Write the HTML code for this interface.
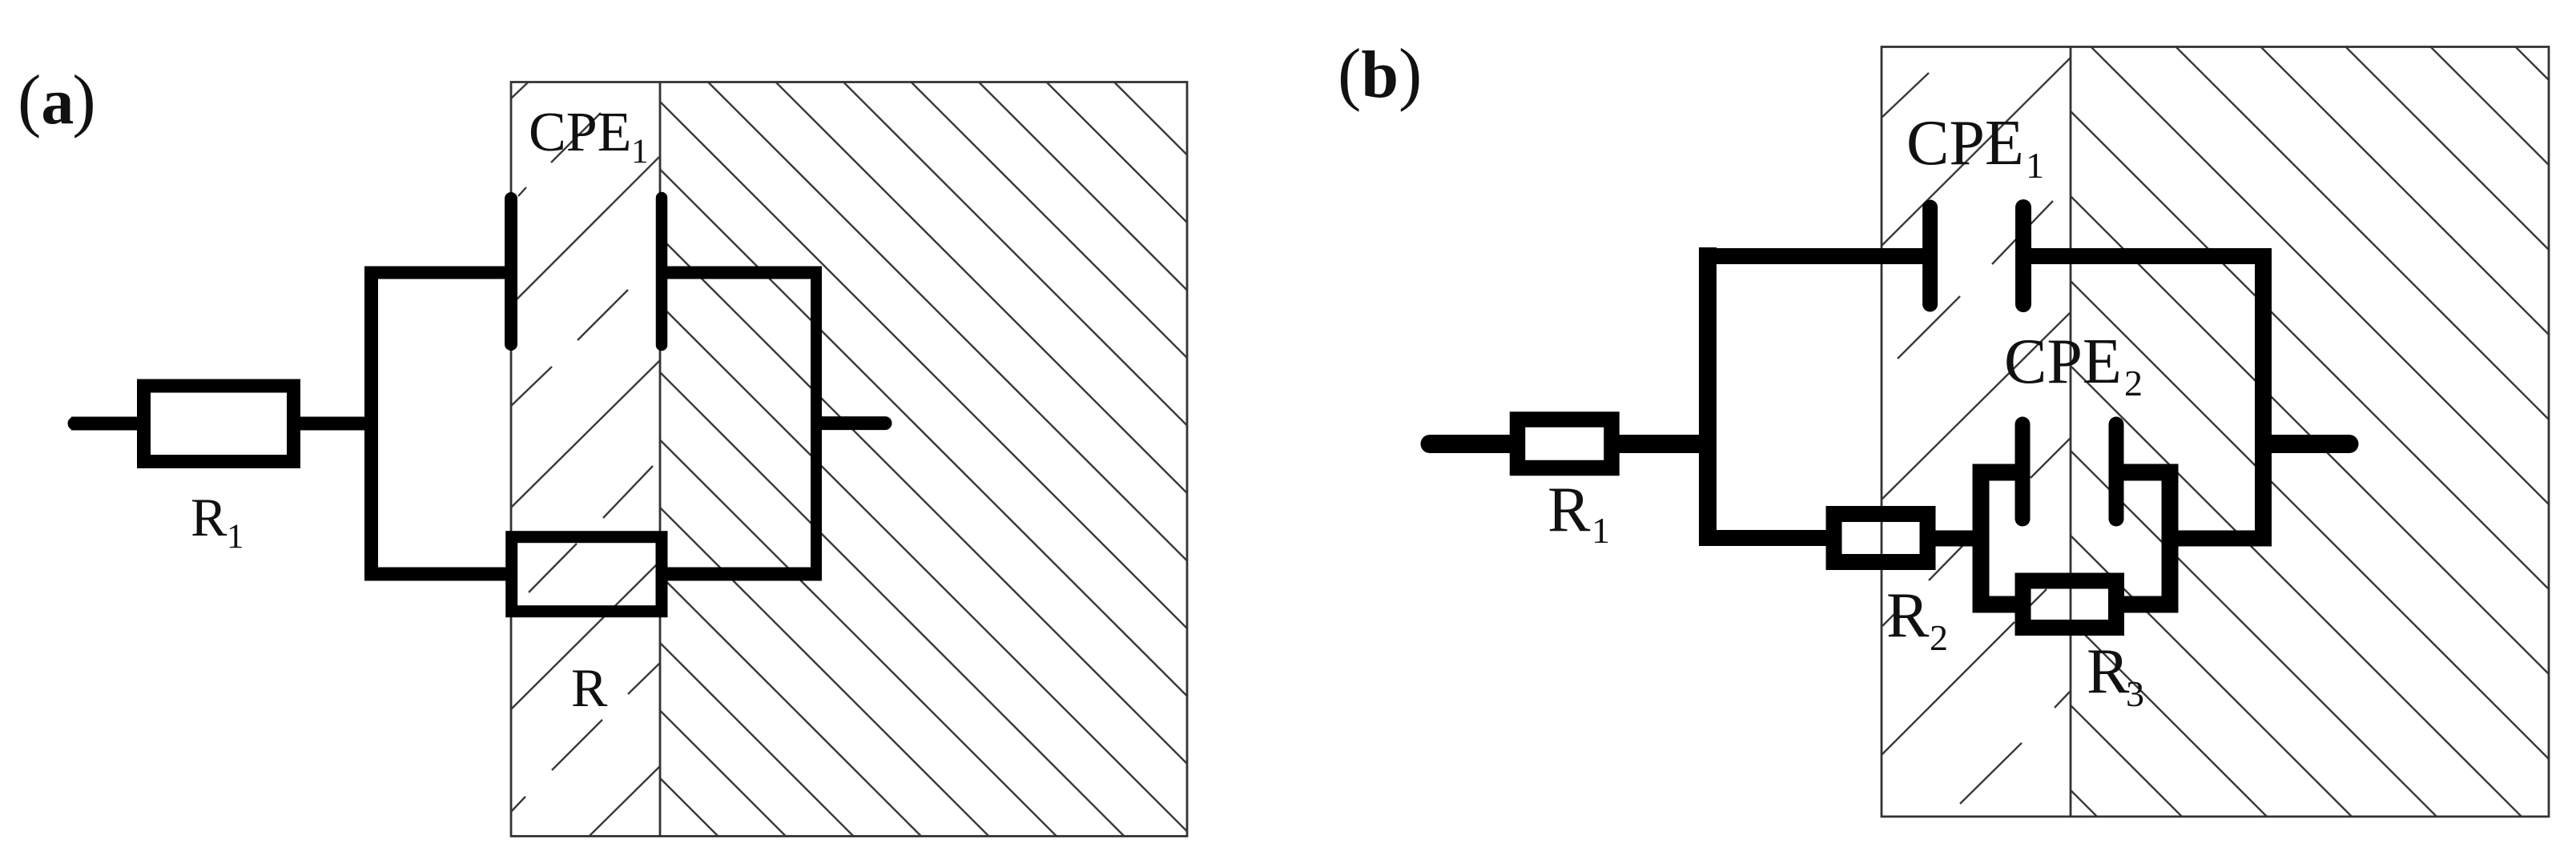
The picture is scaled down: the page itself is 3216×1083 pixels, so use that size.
<!DOCTYPE html>
<html>
<head>
<meta charset="utf-8">
<style>
html,body{margin:0;padding:0;background:#fff;width:3216px;height:1083px;overflow:hidden}
svg{display:block;overflow:hidden}
text{font-family:"Liberation Serif",serif;fill:#111}
.h{fill:none;stroke:#3a3a3a;stroke-width:2.4}
.f{fill:none;stroke:#333;stroke-width:2.8}
.w{fill:none;stroke:#000;stroke-linecap:butt;stroke-linejoin:miter}
.c{fill:none;stroke:#000;stroke-linecap:round}
</style>
</head>
<body>
<svg xmlns="http://www.w3.org/2000/svg" width="3216" height="1083" viewBox="0 0 3216 1083">
<rect width="3216" height="1083" fill="#fff"/>

<!-- Panel (a) hatch -->
<path class="h" d="M1390.5 102L1482 193.5M1306 102L1482 278M1221.5 102L1482 362.5M1137 102L1482 447M1052.5 102L1482 531.5M968 102L1482 616M883.5 102L1482 700.5M824 127L1482 785M824 211.5L1482 869.5M824 296L1482 954M824 380.5L1482 1038.5M824 465L1403 1044M824 549.5L1318.5 1044M824 634L1234 1044M824 718.5L1149.5 1044M824 803L1065 1044M824 887.5L980.5 1044M824 972L896 1044"/>
<path class="h" d="M638 123L659 103M688 203L750 141M647 245L657 234M823 196L638 381M784 362L721 425M689 458L638 507M824 450L638 634M815 582L753 647M720 679L660 740M824 701L638 886M824 828L784 867M752 899L689 962M656 995L638 1014M824 957L736 1044"/>
<rect class="f" x="638" y="102.5" width="844" height="942"/>
<path class="f" d="M824 102V1044"/>

<!-- Panel (a) circuit -->
<path class="w" stroke-width="17" d="M89 529H179M366 529H463.5M463.5 340.5V717M455 717H638"/>
<path class="c" stroke-width="17" d="M93 529H120"/>
<path class="c" stroke-width="17" d="M1026 528.6H1105"/>
<path class="w" stroke-width="16" d="M455 340.5H638M826 340.5H1026"/>
<path class="w" stroke-width="14" d="M1019 340.5V724"/>
<path class="w" stroke-width="17" d="M826 717H1026"/>
<rect class="w" stroke-width="17" x="179.5" y="482" width="187" height="94.5"/>
<rect class="w" stroke-width="15" x="638.7" y="670.7" width="187.3" height="93"/>
<path class="c" stroke-width="16" d="M638 248V430"/>
<path class="c" stroke-width="14.5" d="M826 247V431"/>

<!-- Panel (a) labels -->
<text x="22" y="154" font-size="88">(<tspan font-weight="bold" font-size="82">a</tspan><tspan dx="-2">)</tspan></text>
<text x="660" y="188" font-size="70">CPE</text>
<text x="788" y="203" font-size="43">1</text>
<text x="238" y="669" font-size="68">R</text>
<text x="283" y="684" font-size="43">1</text>
<text x="713" y="882" font-size="68">R</text>

<!-- Panel (b) hatch -->
<path class="h" d="M3141 59L3182 100M3035 59L3182 206M2929 59L3182 312M2823 59L3182 418M2717 59L3182 524M2611 59L3182 630M2585 139L3182 736M2585 245L3182 842M2585 351L3182 948M2585 457L3148 1020M2585 563L3042 1020M2585 669L2936 1020M2585 775L2830 1020M2585 881L2724 1020M2585 987L2618 1020"/>
<path class="h" d="M2408 91L2349 147M2585 72L2349 307M2563 251L2487 330M2447 370L2369 448M2585 390L2349 624M2585 547L2535 597M2450 682L2408 725M2350 782L2365 767M2555 736L2535 756M2515 777L2349 943M2585 863L2565 884M2524 928L2447 1004"/>
<rect class="f" x="2349" y="58.5" width="833" height="961.5"/>
<path class="f" d="M2585 59V1020"/>

<!-- Panel (b) circuit -->
<path class="w" stroke-width="23" d="M1790 554.5H1895M2012 554.5H2132M2826 554.5H2930"/>
<path class="c" stroke-width="23" d="M1785 554.5H1810M2910 554.5H2933"/>
<path class="w" stroke-width="22" d="M2132 309V682"/>
<path class="w" stroke-width="20" d="M2121 320H2410M2526 320H2836"/>
<path class="w" stroke-width="21" d="M2825.5 310V682"/>
<path class="w" stroke-width="20" d="M2121 672H2290M2406 672.5H2473M2709 672.5H2836"/>
<path class="w" stroke-width="21" d="M2525 590H2473V755H2526M2642 755H2709V590H2642"/>
<rect class="w" stroke-width="19.5" x="1894.5" y="524" width="117.5" height="60.5"/>
<rect class="w" stroke-width="20" x="2289.5" y="642" width="117" height="60"/>
<rect class="w" stroke-width="20" x="2525.5" y="725.5" width="116.5" height="58.5"/>
<path class="c" stroke-width="19" d="M2409.6 259V380"/>
<path class="c" stroke-width="20" d="M2526 259V380"/>
<path class="c" stroke-width="19" d="M2525 530V648M2642 530V648"/>

<!-- Panel (b) labels -->
<text x="1670" y="121" font-size="88">(<tspan font-weight="bold" font-size="84">b</tspan>)</text>
<text x="2380" y="205" font-size="80">CPE</text>
<text x="2529" y="222" font-size="46">1</text>
<text x="2502" y="478" font-size="80">CPE</text>
<text x="2652" y="494" font-size="46">2</text>
<text x="1932" y="663" font-size="80">R</text>
<text x="1987" y="678" font-size="46">1</text>
<text x="2355" y="795" font-size="80">R</text>
<text x="2409" y="812" font-size="46">2</text>
<text x="2605" y="865" font-size="80">R</text>
<text x="2654" y="882" font-size="46">3</text>
</svg>
</body>
</html>
